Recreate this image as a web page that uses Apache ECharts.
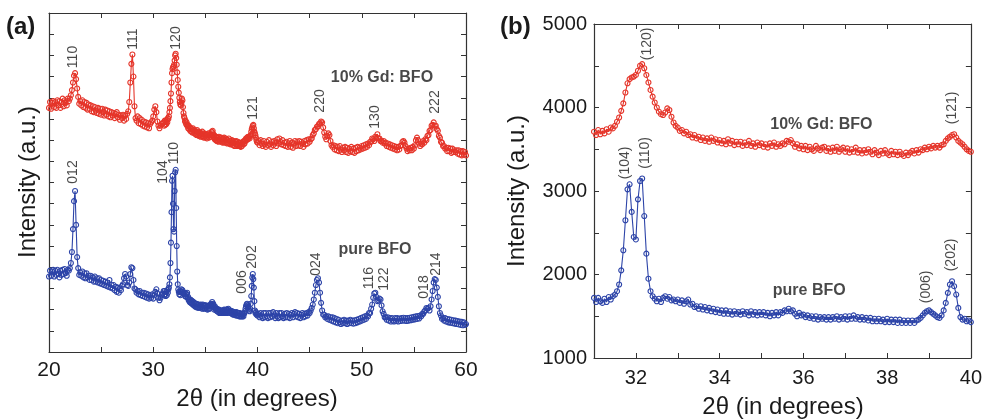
<!DOCTYPE html>
<html>
<head>
<meta charset="utf-8">
<script src="https://cdn.jsdelivr.net/npm/echarts@6/dist/echarts.min.js"></script>
<style>
  html, body { margin: 0; padding: 0; background: #fff; }
  #chart { width: 985px; height: 420px; }
</style>
</head>
<body>
<div id="chart"></div>
<script>
// ---- XRD scans: intensity (counts) on three 2θ segments ----
const LOW_START = 20.0, LOW_STEP = 0.1;    // 20.0 – 30.9°
const MID_START = 31.0, MID_STEP = 0.05;   // 31.00 – 40.00°
const HIGH_START = 40.1, HIGH_STEP = 0.1;  // 40.1 – 60.0°

// 10% Gd doped BiFeO3
const gdLow = [
  3880,3950,3870,3940,3960,3890,3950,3880,3970,3910,
  3960,3880,3950,3990,3900,3970,3940,3910,3990,3960,
  3990,4030,4090,4180,4260,4290,4220,4110,4010,3930,
  3960,3910,3970,3890,3950,3880,3940,3860,3920,3870,
  3910,3840,3900,3830,3890,3850,3820,3880,3810,3870,
  3800,3870,3830,3790,3860,3800,3850,3780,3840,3770,
  3830,3790,3820,3760,3810,3830,3770,3800,3740,3790,
  3760,3800,3730,3790,3750,3810,3840,3950,4180,4400,
  4510,4250,3900,3760,3730,3780,3700,3760,3690,3740,
  3670,3720,3660,3710,3650,3700,3640,3690,3710,3730,
  3780,3860,3900,3830,3720,3670,3640,3670,3690,3700
];
const gdMid = [
  3710,3670,3730,3680,3720,3690,3740,3710,3760,3750,
  3780,3830,3880,3960,4050,4180,4290,4340,4360,4370,
  4390,4440,4500,4520,4470,4390,4300,4210,4130,4060,
  4000,3950,3920,3910,3940,3990,3970,3890,3820,3780,
  3760,3720,3730,3690,3710,3670,3680,3640,3670,3630,
  3650,3610,3640,3600,3630,3590,3640,3600,3620,3580,
  3610,3570,3600,3560,3620,3570,3600,3550,3590,3560,
  3590,3540,3580,3550,3600,3540,3570,3530,3580,3550,
  3570,3530,3560,3520,3570,3540,3580,3530,3560,3540,
  3570,3560,3600,3590,3610,3570,3530,3560,3510,3540,
  3500,3540,3490,3530,3500,3480,3540,3510,3490,3520,
  3530,3480,3510,3470,3520,3480,3530,3470,3500,3520,
  3470,3510,3460,3500,3470,3520,3460,3490,3450,3490,
  3460,3500,3470,3440,3490,3460,3430,3480,3450,3490,
  3450,3430,3480,3440,3470,3430,3470,3440,3420,3460,
  3430,3460,3480,3450,3490,3460,3500,3490,3520,3500,
  3530,3510,3540,3520,3540,3520,3550,3560,3600,3630,
  3650,3670,3680,3640,3600,3580,3560,3530,3500,3480,
  3470
];
const gdHigh = [
  3490,3440,3500,3460,3430,3490,3450,3420,3480,3440,
  3500,3450,3420,3480,3440,3490,3470,3430,3510,3460,
  3520,3480,3450,3500,3440,3470,3430,3480,3420,3460,
  3490,3420,3470,3410,3460,3490,3430,3480,3440,3490,
  3430,3480,3460,3420,3490,3450,3500,3460,3510,3480,
  3510,3520,3560,3580,3620,3630,3660,3660,3690,3700,
  3720,3710,3650,3590,3540,3510,3550,3580,3560,3490,
  3440,3420,3440,3390,3430,3380,3420,3370,3430,3390,
  3360,3410,3380,3420,3360,3410,3350,3400,3370,3420,
  3360,3400,3350,3410,3370,3420,3380,3410,3390,3430,
  3400,3440,3410,3450,3420,3460,3440,3480,3480,3520,
  3510,3490,3540,3530,3570,3520,3520,3490,3490,3470,
  3490,3460,3470,3430,3460,3420,3450,3410,3440,3400,
  3430,3390,3420,3380,3420,3390,3430,3440,3480,3490,
  3470,3430,3400,3370,3400,3380,3410,3380,3420,3400,
  3440,3500,3530,3500,3460,3430,3460,3450,3490,3470,
  3510,3500,3550,3560,3610,3620,3670,3680,3710,3670,
  3670,3630,3610,3550,3530,3480,3470,3430,3430,3400,
  3410,3370,3410,3370,3400,3350,3400,3360,3380,3360,
  3380,3340,3380,3330,3370,3320,3370,3330,3360,3320
];

// pure BiFeO3
const bfoLow = [
  1890,1960,1900,1950,1970,1890,1960,1910,1970,1920,
  1880,1960,1910,1970,1920,1980,1930,1900,1970,1960,
  1990,2050,2180,2450,2780,2900,2500,2120,1990,1910,
  1940,1900,1950,1880,1930,1870,1930,1880,1900,1850,
  1900,1850,1880,1830,1890,1830,1870,1820,1870,1810,
  1850,1800,1840,1790,1830,1780,1820,1770,1850,1760,
  1790,1750,1790,1730,1770,1710,1760,1700,1750,1730,
  1780,1800,1870,1920,1890,1790,1780,1820,1920,2000,
  1990,1850,1750,1740,1700,1720,1680,1720,1670,1700,
  1660,1700,1650,1690,1640,1680,1630,1670,1640,1680,
  1630,1670,1710,1740,1690,1640,1610,1640,1670,1690
];
const bfoMid = [
  1720,1670,1720,1680,1660,1710,1670,1730,1700,1740,
  1760,1800,1880,2050,2290,2650,3020,3080,2750,2450,
  2420,2900,3120,3150,2700,2250,1950,1800,1740,1710,
  1680,1710,1670,1720,1740,1710,1730,1690,1700,1680,
  1700,1660,1690,1650,1680,1700,1640,1650,1610,1620,
  1590,1620,1580,1610,1570,1600,1560,1590,1550,1580,
  1540,1570,1530,1570,1530,1560,1520,1560,1530,1550,
  1520,1560,1530,1550,1510,1560,1520,1550,1510,1550,
  1520,1550,1510,1540,1500,1540,1510,1550,1510,1550,
  1540,1570,1560,1590,1560,1570,1530,1500,1540,1510,
  1520,1490,1510,1480,1500,1470,1500,1460,1490,1470,
  1490,1460,1490,1460,1490,1470,1500,1460,1490,1470,
  1500,1460,1500,1470,1510,1470,1490,1460,1490,1460,
  1480,1450,1480,1440,1470,1440,1470,1440,1460,1430,
  1470,1430,1460,1430,1460,1420,1460,1420,1450,1420,
  1450,1420,1450,1420,1450,1460,1480,1510,1540,1560,
  1570,1550,1530,1510,1490,1480,1510,1570,1660,1780,
  1880,1920,1860,1760,1600,1490,1460,1470,1440,1450,
  1430
];
const bfoHigh = [
  1450,1410,1460,1420,1400,1460,1410,1460,1420,1400,
  1460,1410,1460,1420,1470,1430,1400,1460,1420,1400,
  1460,1410,1460,1420,1400,1450,1410,1460,1410,1450,
  1400,1440,1460,1410,1450,1470,1420,1460,1410,1450,
  1400,1440,1460,1410,1450,1420,1460,1430,1470,1460,
  1490,1520,1560,1620,1700,1790,1850,1870,1820,1700,
  1580,1490,1440,1440,1410,1420,1390,1420,1380,1410,
  1370,1410,1360,1400,1350,1390,1340,1380,1350,1330,
  1370,1340,1380,1340,1370,1330,1370,1340,1380,1340,
  1370,1335,1375,1340,1380,1350,1390,1360,1400,1370,
  1410,1380,1420,1390,1430,1420,1460,1460,1510,1560,
  1640,1690,1700,1650,1600,1610,1630,1620,1550,1480,
  1450,1410,1410,1380,1410,1370,1400,1360,1400,1370,
  1360,1400,1365,1400,1360,1395,1365,1400,1370,1405,
  1370,1400,1365,1400,1370,1405,1375,1410,1380,1415,
  1385,1420,1390,1425,1395,1430,1420,1450,1450,1480,
  1490,1520,1510,1520,1490,1540,1620,1720,1820,1860,
  1850,1760,1650,1540,1460,1430,1390,1400,1370,1400,
  1360,1390,1350,1385,1345,1380,1340,1375,1335,1370,
  1330,1365,1325,1360,1320,1355,1315,1350,1320,1330
];

// Miller indices written above the reflections: [hkl, 2θ, intensity]
const hklFullGd  = [['110', 22.35, 4481], ['111', 28.06, 4693], ['120', 32.2, 4705], ['121', 39.57, 3879],
                    ['220', 46.0, 3962], ['130', 51.27, 3773], ['222', 57.0, 3950]];
const hklFullBfo = [['012', 22.3, 3124], ['104', 30.94, 3124], ['110', 32.0, 3348], ['006', 38.5, 1826],
                    ['202', 39.5, 2121], ['024', 45.6, 2038], ['116', 50.7, 1873], ['122', 52.1, 1861],
                    ['018', 56.0, 1767], ['214', 57.1, 2038]];
const hklZoom    = [['(120)', 32.26, 4762], ['(121)', 39.55, 3995], ['(104)', 31.74, 3336],
                    ['(110)', 32.21, 3456], ['(006)', 38.93, 1851], ['(202)', 39.52, 2234]];
// Sample names: [text, 2θ, intensity]
const samplesFull = [['10% Gd: BFO', 51.94, 4233], ['pure BFO', 51.27, 2204]];
const samplesZoom = [['10% Gd: BFO', 36.43, 3791], ['pure BFO', 36.14, 1803]];

const FONT = '"Liberation Sans", Arial, Helvetica, sans-serif';
const RED = '#e5352a';
const BLUE = '#2d44a8';
const AXIS = '#333';
const TEXT = '#1a1a1a';

function segment(start, step, vals) {
  return vals.map((v, i) => [+(start + i * step).toFixed(2), v]);
}
const gdAll  = segment(LOW_START, LOW_STEP, gdLow).concat(segment(MID_START, MID_STEP, gdMid), segment(HIGH_START, HIGH_STEP, gdHigh));
const bfoAll = segment(LOW_START, LOW_STEP, bfoLow).concat(segment(MID_START, MID_STEP, bfoMid), segment(HIGH_START, HIGH_STEP, bfoHigh));
const gdZoom  = segment(MID_START, MID_STEP, gdMid);
const bfoZoom = segment(MID_START, MID_STEP, bfoMid);

function axisBase(extra) {
  return Object.assign({
    type: 'value',
    axisLine: { show: true, onZero: false, lineStyle: { color: AXIS, width: 1.2 } },
    axisTick: { show: true, inside: true, length: 5, lineStyle: { color: AXIS, width: 1 } },
    splitLine: { show: false },
    axisLabel: { show: false }
  }, extra);
}

function scanSeries(data, color, xi, yi) {
  return {
    type: 'line', data: data, xAxisIndex: xi, yAxisIndex: yi, sampling: undefined,
    symbol: 'circle', symbolSize: 5, showSymbol: true, showAllSymbol: true,
    itemStyle: { color: 'rgba(255,255,255,0)', borderColor: color, borderWidth: 1.1 },
    lineStyle: { color: color, width: 1.1 },
    emphasis: { disabled: true }, silent: true, z: 2
  };
}

function textSeries(items, xi, yi, rotate, size, weight) {
  return {
    type: 'scatter', xAxisIndex: xi, yAxisIndex: yi, silent: true, z: 5,
    symbolSize: 1, itemStyle: { color: 'rgba(0,0,0,0)' },
    data: items.map(d => ({ name: d[0], value: [d[1], d[2]] })),
    label: {
      show: true, position: 'inside', rotate: rotate, formatter: '{b}',
      color: TEXT, fontFamily: FONT, fontSize: size, fontWeight: weight,
      align: 'center', verticalAlign: 'middle'
    },
    emphasis: { disabled: true }
  };
}

const chart = echarts.init(document.getElementById('chart'), null, { renderer: 'canvas' });
chart.setOption({
  animation: false,
  backgroundColor: '#fff',
  grid: [
    { left: 49, top: 13, width: 417, height: 339 },
    { left: 594, top: 24, width: 378, height: 334 }
  ],
  xAxis: [
    axisBase({ gridIndex: 0, position: 'bottom', min: 20, max: 60, interval: 5,
      axisLabel: { show: true, color: TEXT, fontFamily: FONT, fontSize: 21, margin: 8,
        formatter: v => (v % 10 === 0 ? String(v) : '') } }),
    axisBase({ gridIndex: 0, position: 'top', min: 20, max: 60, interval: 5 }),
    axisBase({ gridIndex: 1, position: 'bottom', min: 31, max: 40, interval: 1,
      axisLabel: { show: true, color: TEXT, fontFamily: FONT, fontSize: 20, margin: 10,
        formatter: v => (v % 2 === 0 ? String(v) : '') } }),
    axisBase({ gridIndex: 1, position: 'top', min: 31, max: 40, interval: 1 })
  ],
  yAxis: [
    axisBase({ gridIndex: 0, position: 'left', min: 1000, max: 5000, interval: 250 }),
    axisBase({ gridIndex: 0, position: 'right', min: 1000, max: 5000, interval: 250 }),
    axisBase({ gridIndex: 1, position: 'left', min: 1000, max: 5000, interval: 500,
      axisLabel: { show: true, color: TEXT, fontFamily: FONT, fontSize: 20, margin: 7,
        formatter: v => (v % 1000 === 0 ? String(v) : '') } }),
    axisBase({ gridIndex: 1, position: 'right', min: 1000, max: 5000, interval: 500 })
  ],
  series: [
    scanSeries(gdAll, RED, 0, 0),
    scanSeries(bfoAll, BLUE, 0, 0),
    scanSeries(gdZoom, RED, 2, 2),
    scanSeries(bfoZoom, BLUE, 2, 2),
    textSeries(hklFullGd, 0, 0, 90, 14, 'normal'),
    textSeries(hklFullBfo, 0, 0, 90, 14, 'normal'),
    textSeries(hklZoom, 2, 2, 90, 14, 'normal'),
    textSeries(samplesFull, 0, 0, 0, 16, 'bold'),
    textSeries(samplesZoom, 2, 2, 0, 16, 'bold')
  ],
  graphic: [
    { type: 'text', left: 6, top: 15, style: { text: '(a)', font: 'bold 24px ' + FONT, fill: TEXT } },
    { type: 'text', left: 500, top: 15, style: { text: '(b)', font: 'bold 24px ' + FONT, fill: TEXT } },
    { type: 'text', x: 257, y: 399, style: { text: '2θ (in degrees)', font: '24px ' + FONT, fill: TEXT, align: 'center', verticalAlign: 'middle' } },
    { type: 'text', x: 783, y: 407, style: { text: '2θ (in degrees)', font: '24px ' + FONT, fill: TEXT, align: 'center', verticalAlign: 'middle' } },
    { type: 'text', x: 28, y: 182, rotation: Math.PI / 2, style: { text: 'Intensity (a.u.)', font: '24px ' + FONT, fill: TEXT, align: 'center', verticalAlign: 'middle' } },
    { type: 'text', x: 517, y: 191, rotation: Math.PI / 2, style: { text: 'Intensity (a.u.)', font: '24px ' + FONT, fill: TEXT, align: 'center', verticalAlign: 'middle' } }
  ]
});
</script>
</body>
</html>
